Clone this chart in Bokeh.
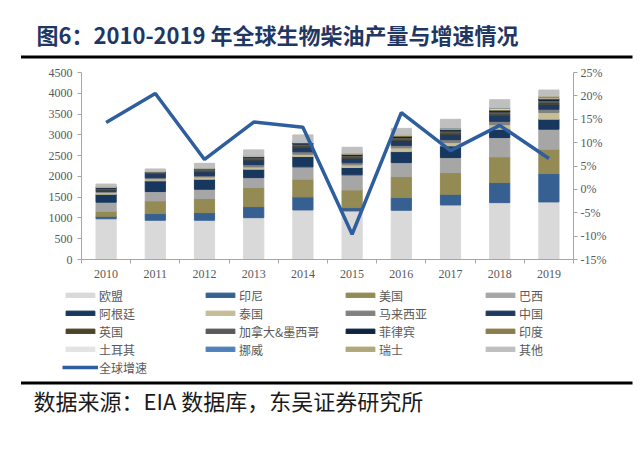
from bokeh.plotting import figure
from bokeh.models import (ColumnDataSource, Range1d, LinearAxis, FixedTicker,
                          PrintfTickFormatter, Legend, LegendItem)
from bokeh.core.properties import value
from bokeh.embed import file_html
from bokeh.resources import INLINE

# ---------------- data ----------------
years = ["2010", "2011", "2012", "2013", "2014", "2015", "2016", "2017", "2018", "2019"]
series_labels = ["欧盟", "印尼", "美国", "巴西", "阿根廷", "泰国", "马来西亚", "中国",
                 "英国", "加拿大&墨西哥", "菲律宾", "印度", "土耳其", "挪威", "瑞士", "其他"]
eu = [980, 945, 945, 1007, 1193, 1169, 1185, 1313, 1369, 1386]
indonesia = [60, 160, 183, 265, 313, 80, 304, 257, 482, 682]
usa = [120, 305, 337, 458, 426, 426, 506, 521, 619, 586]
brazil = [220, 225, 226, 241, 297, 362, 337, 362, 465, 482]
argentina = [190, 258, 241, 202, 249, 177, 265, 281, 200, 241]
thailand = [40, 50, 55, 55, 55, 65, 90, 80, 110, 160]
malaysia = [30, 25, 30, 55, 60, 50, 60, 70, 80, 80]
china = [30, 100, 96, 110, 110, 110, 113, 130, 140, 120]
uk = [20, 15, 20, 25, 35, 30, 35, 35, 40, 40]
canmex = [25, 15, 30, 35, 40, 35, 40, 45, 50, 50]
philippines = [20, 10, 15, 20, 25, 25, 30, 30, 35, 35]
india = [10, 5, 10, 15, 15, 15, 20, 20, 25, 25]
turkey = [10, 5, 10, 10, 15, 10, 15, 15, 20, 15]
norway = [5, 3, 3, 5, 5, 5, 5, 5, 10, 20]
switzerland = [5, 3, 3, 5, 5, 5, 10, 10, 10, 15]
other = [50, 55, 110, 130, 155, 137, 140, 200, 190, 140]
growth = [14.3, 20.5, 6.4, 14.4, 13.3, -9.6, 16.4, 8.3, 13.7, 6.6]
growth_label = "全球增速"

left_ticks = [0, 500, 1000, 1500, 2000, 2500, 3000, 3500, 4000, 4500]
right_ticks = [-15, -10, -5, 0, 5, 10, 15, 20, 25]

title_text = "图6：2010-2019 年全球生物柴油产量与增速情况"
source_text = "数据来源：EIA 数据库，东吴证券研究所"

colors = ["#D9D9D9", "#376092", "#948A54", "#A6A6A6", "#17375E", "#C4BD97",
          "#808080", "#1F3A60", "#4A452A", "#595959", "#0F243E", "#8B7D4B",
          "#E3E3E3", "#4F81BD", "#B0A878", "#BFBFBF"]
line_color = "#2E5E9E"

keys = ["eu", "indonesia", "usa", "brazil", "argentina", "thailand", "malaysia", "china",
        "uk", "canmex", "philippines", "india", "turkey", "norway", "switzerland", "other"]
vals = [eu, indonesia, usa, brazil, argentina, thailand, malaysia, china,
        uk, canmex, philippines, india, turkey, norway, switzerland, other]
data = {"x": list(range(len(years))), "growth": growth}
for k, v in zip(keys, vals):
    data[k] = v
src = ColumnDataSource(data)

CJK = "Noto Sans CJK SC"
SERIF = "Liberation Serif"
TICK_COLOR = "#595959"
AXIS_COLOR = "#A6A6A6"
W = 641


def strip(height):
    f = figure(width=W, height=height, x_range=Range1d(0, W), y_range=Range1d(height, 0),
               x_axis_location=None, y_axis_location=None, toolbar_location=None,
               output_backend="svg", min_border=0, min_border_left=0, min_border_right=0,
               min_border_top=0, min_border_bottom=0, outline_line_color=None)
    f.grid.visible = False
    return f


# ---------------- title strip ----------------
tf = strip(62)
tf.text(x=[36], y=[33.5], text=[title_text], text_font=value(CJK), text_font_size="22px",
        text_font_style="bold", text_color="#1F3763", text_baseline="middle", text_align="left")
tf.segment(x0=[20.5], y0=[56.5], x1=[632], y1=[56.5], line_color="#000000", line_width=3)

# ---------------- main chart ----------------
p = figure(frame_width=492, frame_height=187, x_range=Range1d(-0.5, 9.5),
           y_range=Range1d(0, 4500), toolbar_location=None, output_backend="svg",
           min_border_left=81, min_border_right=68, min_border_top=10, min_border_bottom=26,
           outline_line_color=None)
p.grid.visible = False
p.extra_y_ranges = {"pct": Range1d(-15, 25)}

p.vbar_stack(keys, x="x", width=0.41, color=colors, source=src)
p.line(x="x", y="growth", source=src, y_range_name="pct", line_color=line_color,
       line_width=3.5)

# x axis
xa = p.xaxis[0]
xa.ticker = FixedTicker(ticks=list(range(len(years))),
                        minor_ticks=[i - 0.5 for i in range(len(years) + 1)])
xa.major_label_overrides = {i: y for i, y in enumerate(years)}
xa.major_tick_line_color = None
xa.major_tick_out = 4
xa.major_tick_in = 0
xa.minor_tick_line_color = AXIS_COLOR
xa.minor_tick_out = 4
xa.minor_tick_in = 0
xa.axis_line_color = AXIS_COLOR
xa.major_label_standoff = 6
xa.major_label_text_font = SERIF
xa.major_label_text_font_size = "12px"
xa.major_label_text_color = TICK_COLOR

# left axis
ya = p.yaxis[0]
ya.ticker = FixedTicker(ticks=left_ticks)
ya.axis_line_color = AXIS_COLOR
ya.major_tick_line_color = AXIS_COLOR
ya.major_tick_out = 4
ya.major_tick_in = 0
ya.minor_tick_line_color = None
ya.major_label_standoff = 5
ya.major_label_text_font = SERIF
ya.major_label_text_font_size = "12px"
ya.major_label_text_color = TICK_COLOR

# right axis
ra = LinearAxis(y_range_name="pct", ticker=FixedTicker(ticks=right_ticks),
                formatter=PrintfTickFormatter(format="%d%%"))
ra.axis_line_color = AXIS_COLOR
ra.major_tick_line_color = AXIS_COLOR
ra.major_tick_out = 4
ra.major_tick_in = 0
ra.minor_tick_line_color = None
ra.major_label_standoff = 3
ra.major_label_text_font = SERIF
ra.major_label_text_font_size = "12px"
ra.major_label_text_color = TICK_COLOR
p.add_layout(ra, "right")

# ---------------- legend strip (same series, legend only) ----------------
lf = figure(width=W, height=93, x_range=Range1d(-0.5, 9.5), y_range=Range1d(0, 4500),
            x_axis_location=None, y_axis_location=None, toolbar_location=None,
            output_backend="svg", min_border=0, min_border_left=0, min_border_right=0,
            min_border_top=0, min_border_bottom=0, outline_line_color=None)
lf.grid.visible = False
lf.extra_y_ranges = {"pct": Range1d(-15, 25)}
lbars = lf.vbar_stack(keys, x="x", width=0.41, color=colors, source=src, visible=False)
lline = lf.line(x="x", y="growth", source=src, y_range_name="pct", line_color=line_color,
                line_width=3.5, visible=False)
items = [LegendItem(label=lab, renderers=[r]) for lab, r in zip(series_labels, lbars)]
items.append(LegendItem(label=growth_label, renderers=[lline]))
lg = Legend(items=items, orientation="horizontal", ncols=4, location=(62, 2))
lg.border_line_color = None
lg.background_fill_alpha = 0
lg.padding = 0
lg.margin = 0
lg.spacing = 0
lg.glyph_width = 36
lg.glyph_height = 6
lg.label_standoff = 1
lg.label_width = 103
lg.label_height = 18
lg.label_text_font = CJK
lg.label_text_font_size = "12px"
lg.label_text_color = TICK_COLOR
lg.label_text_baseline = "middle"
lf.add_layout(lg, "center")

# ---------------- source strip ----------------
sf = strip(88)
sf.segment(x0=[20.5], y0=[4.5], x1=[632], y1=[4.5], line_color="#000000", line_width=3)
sf.text(x=[33], y=[21], text=[source_text], text_font=value(CJK), text_font_size="22px",
        text_color="#1A1A1A", text_baseline="middle", text_align="left")

open("out.html", "w").write(file_html((tf, p, lf, sf), INLINE))
